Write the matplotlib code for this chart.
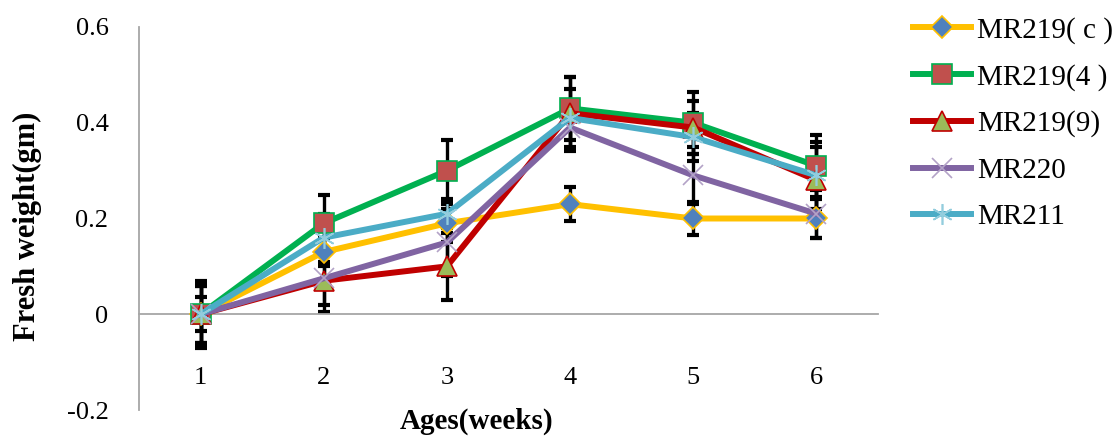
import numpy as np
import matplotlib.pyplot as plt

plt.rcParams['font.family'] = ['Liberation Serif', 'DejaVu Serif']

# ---------------------------- Data ---------------------------- #
weeks = [1, 2, 3, 4, 5, 6]

mr219_c = [0.0, 0.13, 0.19, 0.23, 0.20, 0.20]
mr219_4 = [0.0, 0.19, 0.30, 0.43, 0.40, 0.31]
mr219_9 = [0.0, 0.07, 0.10, 0.42, 0.39, 0.28]
mr220 = [0.0, 0.075, 0.15, 0.39, 0.29, 0.21]
mr211 = [0.0, 0.16, 0.21, 0.41, 0.37, 0.29]

err_c = [0.035, 0.03, 0.04, 0.035, 0.035, 0.04]
err_4 = [0.07, 0.06, 0.065, 0.065, 0.065, 0.065]
err_9 = [0.065, 0.065, 0.07, 0.075, 0.055, 0.07]
err_220 = [0.06, 0.055, 0.07, 0.05, 0.06, 0.05]
err_211 = [0.06, 0.05, 0.03, 0.06, 0.05, 0.07]

labels = ['MR219( c )', 'MR219(4 )', 'MR219(9)', 'MR220', 'MR211']
y_ticks = [-0.2, 0, 0.2, 0.4, 0.6]
y_tick_labels = ['-0.2', '0', '0.2', '0.4', '0.6']

# ---------------------------- Figure ---------------------------- #
fig = plt.figure(figsize=(11.2, 4.4), dpi=100)
ax = fig.add_axes([139/1120, 30/440, 739/1120, 383/440])

series = [
    # values, errors, line colour, marker, face, edge, size
    (mr219_c, err_c, '#FFC000', 'D', '#4F81BD', '#FFC000', 11),
    (mr219_4, err_4, '#00B050', 's', '#C0504D', '#00B050', 14),
    (mr219_9, err_9, '#C00000', '^', '#9BBB59', '#C00000', 15),
    (mr220, err_220, '#8064A2', 'x', '#B3A2C7', '#B3A2C7', 15),
    (mr211, err_211, '#4BACC6', (6, 2, 0), '#93CDDD', '#93CDDD', 15),
]

for vals, errs, lc, mk, fc, ec, ms in series:
    ax.errorbar(weeks, vals, yerr=errs, fmt='none', ecolor='black',
                elinewidth=2.4, capsize=4.5, capthick=3, zorder=2)

for (vals, errs, lc, mk, fc, ec, ms), lab in zip(series, labels):
    ax.plot(weeks, vals, color=lc, lw=4.3, marker=mk, markersize=ms,
            markerfacecolor=fc, markeredgecolor=ec, markeredgewidth=1.2,
            label=lab, zorder=3)

ax.set_xlim(0.5, 6.5)
ax.set_ylim(-0.2, 0.6)
ax.set_xticks(weeks)
ax.set_yticks(y_ticks)
ax.set_yticklabels(y_tick_labels)

for s in ['top', 'right']:
    ax.spines[s].set_visible(False)
ax.spines['left'].set_color('#A6A6A6')
ax.spines['bottom'].set_color('#A6A6A6')
ax.spines['left'].set_linewidth(1.3)
ax.spines['bottom'].set_linewidth(1.3)
ax.spines['bottom'].set_position(('data', 0))

ax.tick_params(axis='x', length=0, pad=38, labelsize=19)
ax.tick_params(axis='y', length=0, pad=22, labelsize=19)

ax.set_xlabel('Ages(weeks)', fontsize=21, fontweight='bold', va='center')
ax.xaxis.set_label_coords(0.457, -0.03)
ax.set_ylabel('Fresh weight(gm)', fontsize=22, fontweight='bold', va='center')
ax.yaxis.set_label_coords(-0.151, 0.48)

fig.legend(loc='upper left', bbox_to_anchor=(913/1120, 1 - 17/440),
           frameon=False, fontsize=21, numpoints=1, handlelength=2.0,
           handletextpad=0.2, labelspacing=0.68, borderpad=0, borderaxespad=0)

fig.savefig('out.png', dpi=100)
